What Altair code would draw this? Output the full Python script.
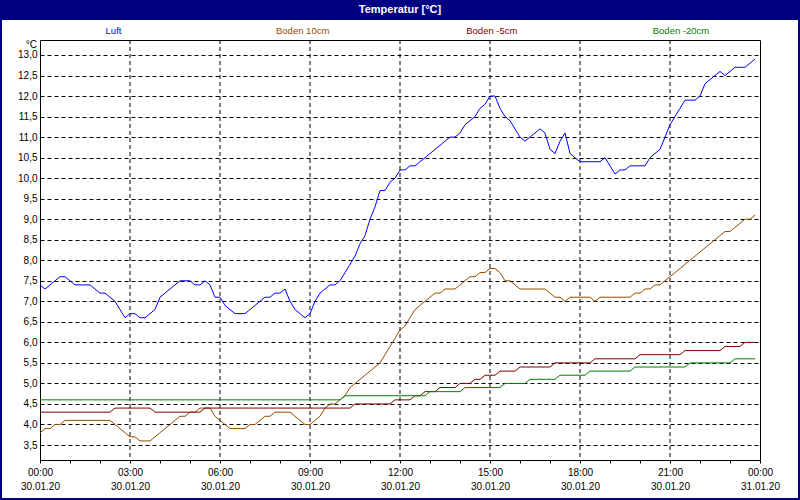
import json
import altair as alt
import pandas as pd

# ---------------- data ----------------
chart_title = "Temperatur [°C]"
unit_label = "°C"
series_names = ["Luft", "Boden 10cm", "Boden -5cm", "Boden -20cm"]
series_colors = ["#0000FF", "#964B00", "#800000", "#008000"]

luft_time = ["00:00", "00:10", "00:20", "00:30", "00:40", "00:50", "01:00", "01:10", "01:40", "01:50",
             "02:00", "02:10", "02:20", "02:30", "02:40", "02:50", "03:00", "03:10", "03:20", "03:30",
             "03:40", "03:50", "04:00", "04:10", "04:20", "04:30", "04:40", "05:00", "05:10", "05:20",
             "05:30", "05:40", "05:50", "06:00", "06:10", "06:20", "06:30", "06:50", "07:00", "07:10",
             "07:20", "07:30", "07:40", "07:50", "08:00", "08:10", "08:20", "08:30", "08:40", "08:50",
             "09:00", "09:10", "09:20", "09:30", "09:40", "09:50", "10:00", "10:10", "10:20", "10:30",
             "10:40", "10:50", "11:00", "11:10", "11:20", "11:30", "11:40", "11:50", "12:00", "12:10",
             "12:20", "12:30", "12:40", "12:50", "13:00", "13:10", "13:20", "13:30", "13:40", "13:50",
             "14:00", "14:10", "14:20", "14:30", "14:40", "14:50", "15:00", "15:10", "15:20", "15:30",
             "15:40", "15:50", "16:00", "16:10", "16:20", "16:30", "16:40", "16:50", "17:00", "17:10",
             "17:20", "17:30", "17:40", "17:50", "18:00", "18:40", "18:50", "19:00", "19:10", "19:20",
             "19:30", "19:40", "20:10", "20:20", "20:30", "20:40", "20:50", "21:00", "21:10", "21:20",
             "21:30", "21:50", "22:00", "22:10", "22:20", "22:30", "22:40", "22:50", "23:00", "23:10",
             "23:30", "23:40", "23:50"]
luft_temp = [7.4, 7.3, 7.4, 7.5, 7.6, 7.6, 7.5, 7.4, 7.4, 7.3,
             7.2, 7.2, 7.1, 7.0, 6.8, 6.6, 6.7, 6.7, 6.6, 6.6,
             6.7, 6.8, 7.1, 7.2, 7.3, 7.4, 7.5, 7.5, 7.4, 7.4,
             7.5, 7.4, 7.1, 7.1, 6.9, 6.8, 6.7, 6.7, 6.8, 6.9,
             7.0, 7.1, 7.1, 7.2, 7.2, 7.3, 7.0, 6.8, 6.7, 6.6,
             6.7, 7.0, 7.2, 7.3, 7.4, 7.4, 7.5, 7.7, 7.9, 8.1,
             8.4, 8.6, 9.0, 9.3, 9.7, 9.7, 9.9, 10.0, 10.2, 10.2,
             10.3, 10.3, 10.4, 10.5, 10.6, 10.7, 10.8, 10.9, 11.0, 11.0,
             11.1, 11.3, 11.4, 11.5, 11.7, 11.8, 12.0, 12.0, 11.7, 11.5,
             11.4, 11.2, 11.0, 10.9, 11.0, 11.1, 11.2, 11.1, 10.7, 10.6,
             10.9, 11.1, 10.6, 10.5, 10.4, 10.4, 10.5, 10.3, 10.1, 10.2,
             10.2, 10.3, 10.3, 10.5, 10.6, 10.7, 11.0, 11.3, 11.5, 11.7,
             11.9, 11.9, 12.0, 12.3, 12.4, 12.5, 12.6, 12.5, 12.6, 12.7,
             12.7, 12.8, 12.9]

boden10_time = ["00:00", "00:10", "00:20", "00:30", "00:40", "00:50", "02:20", "02:30", "02:40", "02:50",
                "03:00", "03:10", "03:20", "03:40", "03:50", "04:00", "04:10", "04:20", "04:30", "04:40",
                "04:50", "05:00", "05:10", "05:20", "05:40", "05:50", "06:00", "06:10", "06:20", "06:50",
                "07:00", "07:10", "07:20", "07:30", "07:40", "07:50", "08:20", "08:30", "08:40", "08:50",
                "09:00", "09:10", "09:20", "09:30", "09:40", "09:50", "10:00", "10:10", "10:20", "10:30",
                "10:40", "10:50", "11:00", "11:10", "11:20", "11:30", "11:40", "11:50", "12:00", "12:10",
                "12:20", "12:30", "12:40", "12:50", "13:00", "13:10", "13:20", "13:30", "13:50", "14:00",
                "14:10", "14:20", "14:30", "14:40", "14:50", "15:00", "15:10", "15:20", "15:30", "15:40",
                "15:50", "16:00", "16:50", "17:00", "17:10", "17:20", "17:30", "17:40", "18:20", "18:30",
                "18:40", "19:40", "19:50", "20:00", "20:10", "20:20", "20:30", "20:40", "20:50", "21:00",
                "21:10", "21:20", "21:30", "21:40", "21:50", "22:00", "22:10", "22:20", "22:30", "22:40",
                "22:50", "23:00", "23:10", "23:20", "23:30", "23:40", "23:50"]
boden10_temp = [3.8, 3.9, 3.9, 4.0, 4.0, 4.1, 4.1, 4.0, 3.9, 3.8,
                3.7, 3.7, 3.6, 3.6, 3.7, 3.8, 3.9, 4.0, 4.1, 4.2,
                4.2, 4.3, 4.3, 4.4, 4.4, 4.2, 4.1, 4.0, 3.9, 3.9,
                4.0, 4.0, 4.1, 4.2, 4.2, 4.3, 4.3, 4.2, 4.1, 4.0,
                4.0, 4.1, 4.2, 4.4, 4.5, 4.5, 4.6, 4.7, 4.9, 5.0,
                5.1, 5.2, 5.3, 5.4, 5.5, 5.7, 5.9, 6.1, 6.3, 6.4,
                6.6, 6.8, 6.9, 7.0, 7.1, 7.2, 7.2, 7.3, 7.3, 7.4,
                7.5, 7.6, 7.6, 7.7, 7.7, 7.8, 7.8, 7.7, 7.5, 7.5,
                7.4, 7.3, 7.3, 7.2, 7.1, 7.1, 7.0, 7.1, 7.1, 7.0,
                7.1, 7.1, 7.2, 7.2, 7.3, 7.3, 7.4, 7.4, 7.5, 7.6,
                7.7, 7.8, 7.9, 8.0, 8.1, 8.2, 8.3, 8.4, 8.5, 8.6,
                8.7, 8.7, 8.8, 8.9, 9.0, 9.0, 9.1]

boden5_time = ["00:00", "02:20", "02:30", "03:40", "03:50", "05:20", "05:30", "10:20", "10:30", "11:40",
               "11:50", "12:20", "12:30", "12:40", "12:50", "13:10", "13:20", "13:50", "14:00", "14:20",
               "14:30", "14:40", "14:50", "15:10", "15:20", "15:50", "16:00", "17:00", "17:10", "18:20",
               "18:30", "19:50", "20:00", "21:20", "21:30", "22:40", "22:50", "23:20", "23:30", "23:50"]
boden5_temp = [4.3, 4.3, 4.4, 4.4, 4.3, 4.3, 4.4, 4.4, 4.5, 4.5,
               4.6, 4.6, 4.7, 4.7, 4.8, 4.8, 4.9, 4.9, 5.0, 5.0,
               5.1, 5.1, 5.2, 5.2, 5.3, 5.3, 5.4, 5.4, 5.5, 5.5,
               5.6, 5.6, 5.7, 5.7, 5.8, 5.8, 5.9, 5.9, 6.0, 6.0]

boden20_time = ["00:00", "10:00", "10:10", "12:50", "13:00", "14:00", "14:10", "15:20", "15:30", "16:10",
                "16:20", "17:10", "17:20", "18:10", "18:20", "19:40", "19:50", "21:30", "21:40", "23:00",
                "23:10", "23:50"]
boden20_temp = [4.6, 4.6, 4.7, 4.7, 4.8, 4.8, 4.9, 4.9, 5.0, 5.0,
                5.1, 5.1, 5.2, 5.2, 5.3, 5.3, 5.4, 5.4, 5.5, 5.5,
                5.6, 5.6]

x_tick_hours = list(range(25))
x_label_times = ["00:00", "03:00", "06:00", "09:00", "12:00", "15:00", "18:00", "21:00", "00:00"]
x_label_dates = ["30.01.20", "30.01.20", "30.01.20", "30.01.20", "30.01.20",
                 "30.01.20", "30.01.20", "30.01.20", "31.01.20"]
x_grid_hours = [3, 6, 9, 12, 15, 18, 21]
y_ticks = [3.5, 4.0, 4.5, 5.0, 5.5, 6.0, 6.5, 7.0, 7.5, 8.0, 8.5, 9.0, 9.5,
           10.0, 10.5, 11.0, 11.5, 12.0, 12.5, 13.0]

# ---------------- build table ----------------
def to_hours(s):
    h, m = s.split(":")
    return int(h) + int(m) / 60.0

rows = []
for name, ts, vs in [(series_names[0], luft_time, luft_temp),
                     (series_names[1], boden10_time, boden10_temp),
                     (series_names[2], boden5_time, boden5_temp),
                     (series_names[3], boden20_time, boden20_temp)]:
    for t, v in zip(ts, vs):
        rows.append({"series": name, "hour": to_hours(t), "temp": v})
df = pd.DataFrame(rows)

FONT = "Liberation Sans"
xscale = alt.Scale(domain=[0, 24], nice=False, zero=False)
yscale = alt.Scale(domain=[3.135, 13.365], nice=False, zero=False)
cscale = alt.Scale(domain=series_names, range=series_colors)

x_label_expr = ("datum.value % 3 === 0 ? [" + json.dumps(x_label_times) + "[datum.value / 3], "
                + json.dumps(x_label_dates) + "[datum.value / 3]] : ''")

one = pd.DataFrame({"k": [0]})

vrules = alt.Chart(pd.DataFrame({"hour": x_grid_hours})).mark_rule(
    color="black", strokeWidth=1, strokeDash=[4, 3]
).encode(x=alt.X("hour:Q", scale=xscale, axis=None))

lines = alt.Chart(df).mark_line(strokeWidth=1).encode(
    x=alt.X("hour:Q", scale=xscale,
            axis=alt.Axis(values=x_tick_hours, labelExpr=x_label_expr, grid=False,
                          tickSize=3, tickColor="black", domain=False, title=None,
                          labelFont=FONT, labelFontSize=10, labelColor="black",
                          labelPadding=4, labelLineHeight=14.5, labelFlush=False,
                          labelOverlap=False, labelBound=False)),
    y=alt.Y("temp:Q", scale=yscale,
            axis=alt.Axis(values=y_ticks,
                          labelExpr="replace(format(datum.value, '.1f'), '.', ',')",
                          grid=True, gridColor="black", gridDash=[4, 3], gridWidth=1,
                          ticks=False, domain=False, title=None, labelFont=FONT,
                          labelFontSize=10, labelColor="black", labelPadding=3)),
    color=alt.Color("series:N", scale=cscale, legend=None),
)

legend_text = alt.Chart(pd.DataFrame({"series": series_names})).mark_text(
    font=FONT, fontSize=9.5, baseline="middle", align="center"
).encode(
    x=alt.X("series:N", scale=alt.Scale(type="point", domain=series_names,
                                        range=[73.5, 641], padding=0), axis=None),
    y=alt.value(-9.5),
    text="series:N",
    color=alt.Color("series:N", scale=cscale, legend=None),
)

title_bar = alt.Chart(one).mark_rect(color="#000080").encode(
    x=alt.value(-40), x2=alt.value(760), y=alt.value(-40), y2=alt.value(-20)
)
title_text = alt.Chart(one).mark_text(
    text=chart_title, color="white", font=FONT, fontSize=11, fontWeight="bold",
    baseline="middle", align="center"
).encode(x=alt.value(360), y=alt.value(-30))

border = alt.Chart(one).mark_rect(fillOpacity=0, stroke="#000080", strokeWidth=2).encode(
    x=alt.value(-39), x2=alt.value(759), y=alt.value(-39), y2=alt.value(459)
)

unit_text = alt.Chart(one).mark_text(
    text=unit_label, font=FONT, fontSize=10, color="black", align="right", baseline="middle"
).encode(x=alt.value(-3), y=alt.value(5))

chart = alt.layer(
    vrules, lines, legend_text, title_bar, title_text, border, unit_text
).resolve_scale(x="independent").properties(
    width=720, height=420,
    padding={"left": 40, "top": 40, "right": 40, "bottom": 40},
    autosize=alt.AutoSizeParams(type="none"),
    background="white",
).configure_view(stroke="black", strokeWidth=1, fill="white")

chart.save("out.html", embed_options={"renderer": "svg", "actions": False})
